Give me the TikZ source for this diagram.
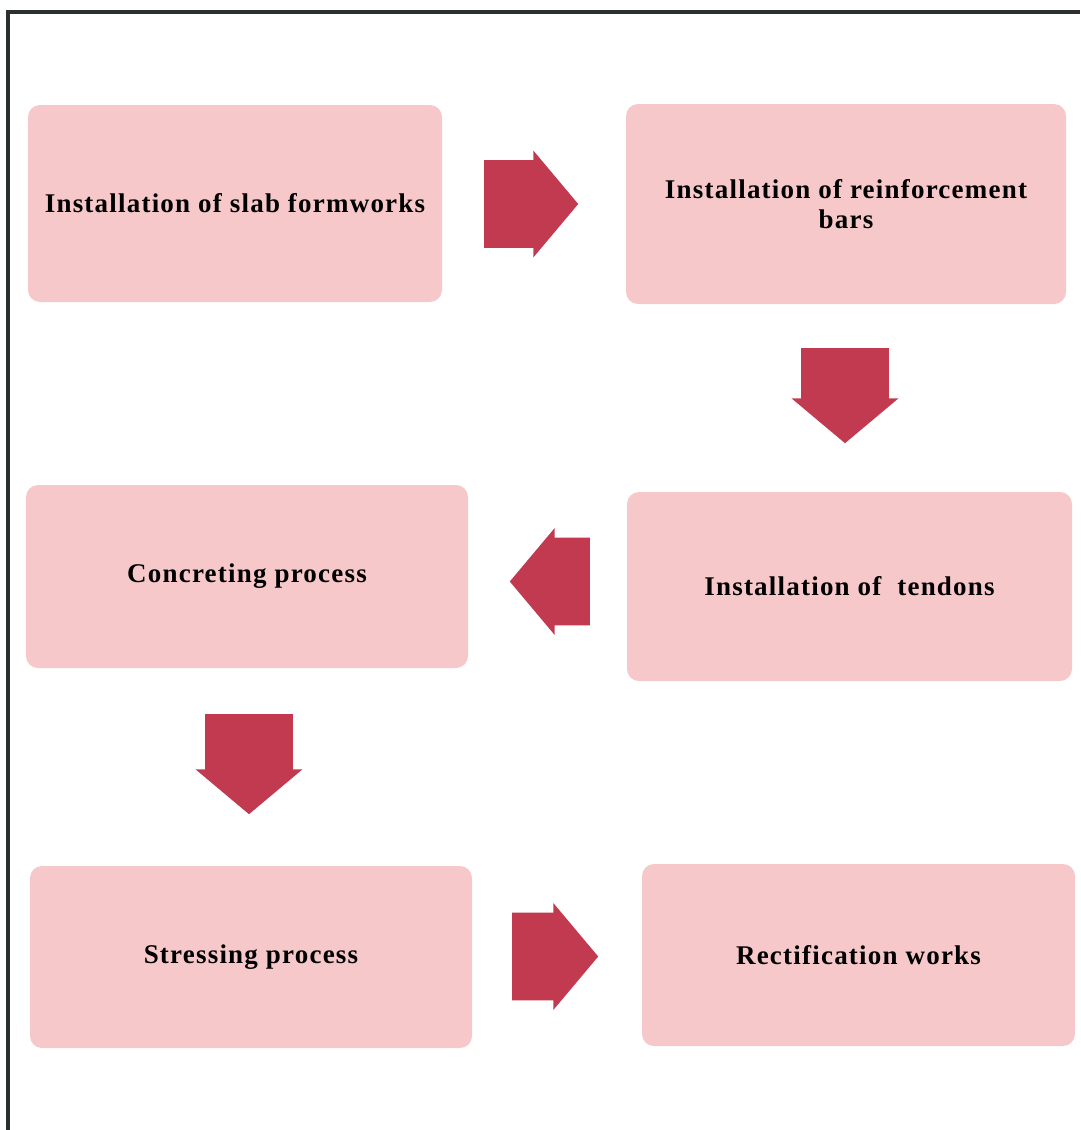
\documentclass[tikz,border=0pt]{standalone}
\usepackage{fontspec}
\newfontfamily\stepfont[LetterSpace=4.5]{Liberation Serif}
\usepackage{tikz}
\usetikzlibrary{shapes,arrows.meta,positioning}

\definecolor{boxpink}{HTML}{F7C8C9}
\definecolor{arrowred}{HTML}{C23A50}
\definecolor{framegray}{HTML}{2B302F}

\begin{document}
\begin{tikzpicture}[x=1pt,y=-1pt,
    stepbox/.style={rectangle, rounded corners=12pt, fill=boxpink, align=center,
      inner sep=0pt, font=\stepfont\bfseries\fontsize{27}{30}\selectfont},
    barrow/.style={single arrow, fill=arrowred, inner sep=0pt, anchor=tail,
      text height=64pt, text depth=0pt, single arrow tip angle=100,
      minimum width=107pt}]
            \useasboundingbox (0,0) rectangle (1080,1130);
            \draw[framegray, line width=4pt] (8,1130) -- (8,12) -- (1080,12);
            % process steps
            \node[stepbox, minimum width=414pt, minimum height=197pt] (slab) at (235,203.5) {Installation of slab formworks};
            \node[stepbox, minimum width=440pt, minimum height=200pt] (rebar) at (846,204) {Installation of reinforcement\\bars};
            \node[stepbox, minimum width=442pt, minimum height=183pt] (concrete) at (247,576.5) {Concreting process};
            \node[stepbox, minimum width=445pt, minimum height=189pt] (tendon) at (849.5,586.5) {Installation of~ tendons};
            \node[stepbox, minimum width=442pt, minimum height=182pt] (stress) at (251,957) {Stressing process};
            \node[stepbox, minimum width=433pt, minimum height=182pt] (rectify) at (858.5,955) {Rectification works};
            % block arrows (placed by their tails)
            \node[barrow, minimum height=94pt] (a1) at (484,204) {};
            \node[barrow, minimum height=95pt, rotate=-90] (a2) at (845,348) {};
            \node[barrow, minimum height=80pt, rotate=180] (a3) at (590,581.5) {};
            \node[barrow, minimum height=100pt, rotate=-90] (a4) at (249,714) {};
            \node[barrow, minimum height=86pt] (a5) at (512,956.5) {};
        \end{tikzpicture}
\end{document}
